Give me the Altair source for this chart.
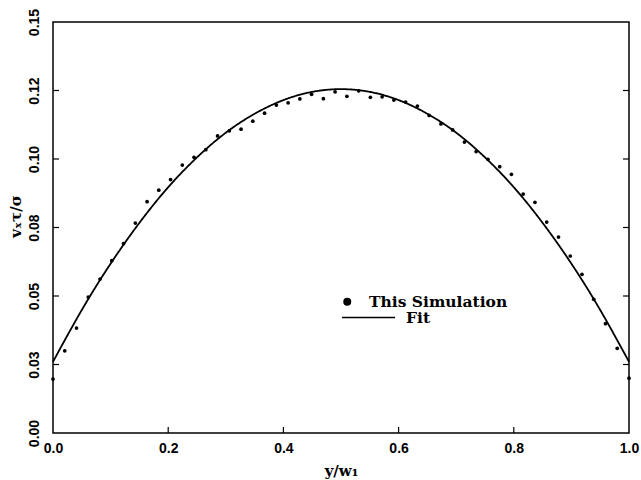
import altair as alt
import pandas as pd

# ---- data ----
sim_x = [0.0, 0.0204, 0.0408, 0.0612, 0.0816, 0.1020, 0.1224, 0.1429, 0.1633, 0.1837,
         0.2041, 0.2245, 0.2449, 0.2653, 0.2857, 0.3061, 0.3265, 0.3469, 0.3673, 0.3878,
         0.4082, 0.4286, 0.4490, 0.4694, 0.4898, 0.5102, 0.5306, 0.5510, 0.5714, 0.5918,
         0.6122, 0.6327, 0.6531, 0.6735, 0.6939, 0.7143, 0.7347, 0.7551, 0.7755, 0.7959,
         0.8163, 0.8367, 0.8571, 0.8776, 0.8980, 0.9184, 0.9388, 0.9592, 0.9796, 1.0]
sim_y = [0.0197, 0.0300, 0.0383, 0.0496, 0.0562, 0.0629, 0.0691, 0.0766, 0.0844, 0.0886,
         0.0925, 0.0978, 0.1006, 0.1034, 0.1084, 0.1103, 0.1109, 0.1138, 0.1167, 0.1197,
         0.1205, 0.1219, 0.1236, 0.1220, 0.1245, 0.1229, 0.1249, 0.1225, 0.1227, 0.1215,
         0.1208, 0.1193, 0.1159, 0.1128, 0.1106, 0.1062, 0.1027, 0.0999, 0.0972, 0.0944,
         0.0872, 0.0842, 0.0770, 0.0715, 0.0646, 0.0579, 0.0488, 0.0399, 0.0309, 0.0200]

fit_x = [0.0, 0.05, 0.10, 0.15, 0.20, 0.25, 0.30, 0.35, 0.40, 0.45, 0.50,
         0.55, 0.60, 0.65, 0.70, 0.75, 0.80, 0.85, 0.90, 0.95, 1.0]
fit_y = [0.0260, 0.0449, 0.0618, 0.0767, 0.0897, 0.1006, 0.1096, 0.1165, 0.1215, 0.1245, 0.1255,
         0.1245, 0.1215, 0.1165, 0.1096, 0.1006, 0.0897, 0.0767, 0.0618, 0.0449, 0.0260]

x_ticks = [0.0, 0.2, 0.4, 0.6, 0.8, 1.0]
x_tick_labels = ["0.0", "0.2", "0.4", "0.6", "0.8", "1.0"]
y_ticks = [0.0, 0.025, 0.05, 0.075, 0.10, 0.125, 0.15]
y_tick_labels = ["0.00", "0.03", "0.05", "0.08", "0.10", "0.12", "0.15"]
series_names = ["This Simulation", "Fit"]
x_title = "y/w\u2081"
y_title = "v\u2093\u03c4/\u03c3"

W, H = 576, 411
TICK = 6
LABEL_FONT = "Liberation Sans"
SERIF = "DejaVu Serif"

sim_df = pd.DataFrame({"x": sim_x, "y": sim_y, "series": series_names[0]})
fit_df = pd.DataFrame({"x": fit_x, "y": fit_y, "series": series_names[1]})
xt_df = pd.DataFrame({"x": x_ticks[1:-1]})
yt_df = pd.DataFrame({"y": y_ticks[1:-1]})


def label_expr(vals, labs):
    s = ""
    for v, l in zip(vals, labs):
        s += f"abs(datum.value - {v}) < 0.00001 ? '{l}' : "
    return s + "''"


xscale = alt.Scale(domain=[0, 1], nice=False, zero=False)
yscale = alt.Scale(domain=[0, 0.15], nice=False, zero=False)

xaxis = alt.Axis(values=x_ticks, labelExpr=label_expr(x_ticks, x_tick_labels),
                 title=x_title, tickSize=0, domain=False, grid=False, labelFlush=False,
                 labelFont=LABEL_FONT, labelFontSize=14, labelFontWeight="bold",
                 labelColor="black", labelPadding=8,
                 titleFont=SERIF, titleFontSize=15, titleFontWeight="bold",
                 titleColor="black", titleX=W / 2, titleY=37, titleBaseline="middle",
                 titleAlign="center")
yaxis = alt.Axis(values=y_ticks, labelExpr=label_expr(y_ticks, y_tick_labels),
                 title=y_title, tickSize=0, domain=False, grid=False, labelFlush=False,
                 labelFont=LABEL_FONT, labelFontSize=14, labelFontWeight="bold",
                 labelColor="black", labelAngle=270, labelAlign="center",
                 labelBaseline="alphabetic", labelPadding=15,
                 titleFont=SERIF, titleFontSize=15, titleFontWeight="bold",
                 titleColor="black", titleAngle=270, titleX=-38, titleY=194,
                 titleAlign="center", titleBaseline="middle")

X = alt.X("x:Q", scale=xscale, axis=xaxis)
Y = alt.Y("y:Q", scale=yscale, axis=yaxis)

fit_line = alt.Chart(fit_df).mark_line(interpolate="natural", color="black", strokeWidth=1.8).encode(
    x=X, y=Y,
    strokeDash=alt.StrokeDash(
        "series:N",
        scale=alt.Scale(domain=[series_names[1]], range=[[1, 0]]),
        legend=alt.Legend(orient="none", legendX=288, legendY=268, title=None, padding=0,
                          symbolType="stroke", symbolSize=2809, symbolStrokeWidth=1.5,
                          symbolStrokeColor="black", labelOffset=10,
                          labelFont=SERIF, labelFontSize=15.5, labelFontWeight="bold",
                          labelColor="black"),
    ),
)

points = alt.Chart(sim_df).mark_circle(size=14, opacity=1).encode(
    x=X, y=Y,
    color=alt.Color(
        "series:N",
        scale=alt.Scale(domain=[series_names[0]], range=["black"]),
        legend=alt.Legend(orient="none", legendX=286.5, legendY=272, title=None, padding=0,
                          symbolType="circle", symbolSize=64, symbolFillColor="black",
                          symbolStrokeWidth=0, labelOffset=14,
                          labelFont=SERIF, labelFontSize=15.5, labelFontWeight="bold",
                          labelColor="black"),
    ),
)

bottom_ticks = alt.Chart(xt_df).mark_rule(color="black", strokeWidth=1.2).encode(
    x=X, y=alt.value(H), y2=alt.value(H - TICK))
left_ticks = alt.Chart(yt_df).mark_rule(color="black", strokeWidth=1.2).encode(
    y=Y, x=alt.value(0), x2=alt.value(TICK))
right_ticks = alt.Chart(yt_df).mark_rule(color="black", strokeWidth=1.2).encode(
    y=Y, x=alt.value(W), x2=alt.value(W - TICK))

chart = alt.layer(fit_line, points, bottom_ticks, left_ticks, right_ticks).properties(
    width=W, height=H,
    autosize=alt.AutoSizeParams(type="none"),
    padding={"left": 53, "top": 22, "right": 12, "bottom": 47},
    background="white",
).configure_view(stroke="black", strokeWidth=1.5)

chart.save("out.html", embed_options={"renderer": "svg", "actions": False})
